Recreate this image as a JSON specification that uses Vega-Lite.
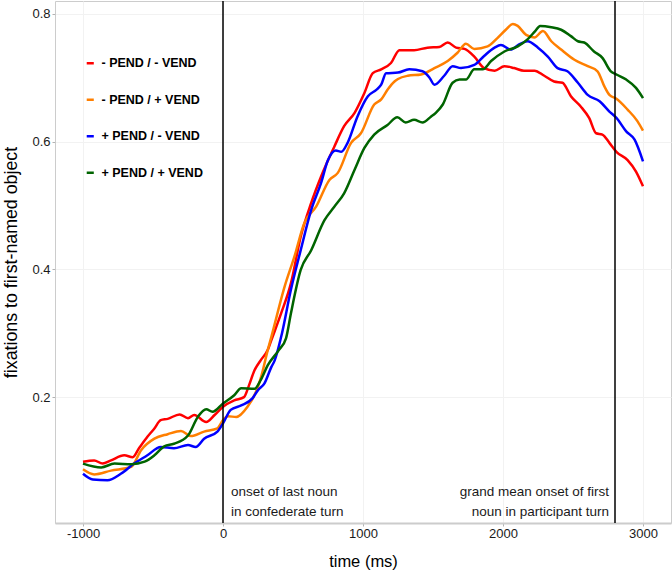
{
  "$schema": "https://vega.github.io/schema/vega-lite/v6.json",
  "width": 616,
  "height": 522,
  "autosize": "none",
  "padding": {"left": 55, "top": 1, "right": 1, "bottom": 51},
  "background": "white",
  "config": {
    "font": "Liberation Sans",
    "view": {"stroke": "#cccccc", "strokeWidth": 1},
    "axis": {
      "labelFont": "Liberation Sans",
      "labelFontSize": 13,
      "labelColor": "#1a1a1a",
      "titleFont": "Liberation Sans",
      "titleFontSize": 16.5,
      "titleFontWeight": "normal",
      "titleColor": "#000000",
      "gridColor": "#f2f2f2",
      "gridWidth": 1,
      "tickColor": "#b3b3b3",
      "tickSize": 3,
      "domain": false
    }
  },
  "datasets": {
    "curves": [
      {"t": -1000, "v": 0.099, "cond": "- PEND / - VEND"},
      {"t": -920, "v": 0.101, "cond": "- PEND / - VEND"},
      {"t": -860, "v": 0.096, "cond": "- PEND / - VEND"},
      {"t": -800, "v": 0.101, "cond": "- PEND / - VEND"},
      {"t": -705, "v": 0.109, "cond": "- PEND / - VEND"},
      {"t": -645, "v": 0.106, "cond": "- PEND / - VEND"},
      {"t": -600, "v": 0.120, "cond": "- PEND / - VEND"},
      {"t": -540, "v": 0.138, "cond": "- PEND / - VEND"},
      {"t": -490, "v": 0.151, "cond": "- PEND / - VEND"},
      {"t": -445, "v": 0.164, "cond": "- PEND / - VEND"},
      {"t": -395, "v": 0.166, "cond": "- PEND / - VEND"},
      {"t": -310, "v": 0.173, "cond": "- PEND / - VEND"},
      {"t": -250, "v": 0.167, "cond": "- PEND / - VEND"},
      {"t": -205, "v": 0.172, "cond": "- PEND / - VEND"},
      {"t": -120, "v": 0.161, "cond": "- PEND / - VEND"},
      {"t": -60, "v": 0.172, "cond": "- PEND / - VEND"},
      {"t": 0, "v": 0.185, "cond": "- PEND / - VEND"},
      {"t": 80, "v": 0.195, "cond": "- PEND / - VEND"},
      {"t": 150, "v": 0.200, "cond": "- PEND / - VEND"},
      {"t": 185, "v": 0.218, "cond": "- PEND / - VEND"},
      {"t": 225, "v": 0.242, "cond": "- PEND / - VEND"},
      {"t": 270, "v": 0.258, "cond": "- PEND / - VEND"},
      {"t": 320, "v": 0.274, "cond": "- PEND / - VEND"},
      {"t": 345, "v": 0.289, "cond": "- PEND / - VEND"},
      {"t": 415, "v": 0.331, "cond": "- PEND / - VEND"},
      {"t": 485, "v": 0.378, "cond": "- PEND / - VEND"},
      {"t": 555, "v": 0.451, "cond": "- PEND / - VEND"},
      {"t": 630, "v": 0.504, "cond": "- PEND / - VEND"},
      {"t": 700, "v": 0.545, "cond": "- PEND / - VEND"},
      {"t": 795, "v": 0.592, "cond": "- PEND / - VEND"},
      {"t": 865, "v": 0.624, "cond": "- PEND / - VEND"},
      {"t": 940, "v": 0.645, "cond": "- PEND / - VEND"},
      {"t": 1010, "v": 0.676, "cond": "- PEND / - VEND"},
      {"t": 1070, "v": 0.707, "cond": "- PEND / - VEND"},
      {"t": 1130, "v": 0.713, "cond": "- PEND / - VEND"},
      {"t": 1200, "v": 0.723, "cond": "- PEND / - VEND"},
      {"t": 1260, "v": 0.743, "cond": "- PEND / - VEND"},
      {"t": 1365, "v": 0.743, "cond": "- PEND / - VEND"},
      {"t": 1460, "v": 0.747, "cond": "- PEND / - VEND"},
      {"t": 1545, "v": 0.748, "cond": "- PEND / - VEND"},
      {"t": 1605, "v": 0.755, "cond": "- PEND / - VEND"},
      {"t": 1665, "v": 0.747, "cond": "- PEND / - VEND"},
      {"t": 1725, "v": 0.745, "cond": "- PEND / - VEND"},
      {"t": 1795, "v": 0.733, "cond": "- PEND / - VEND"},
      {"t": 1865, "v": 0.715, "cond": "- PEND / - VEND"},
      {"t": 1940, "v": 0.711, "cond": "- PEND / - VEND"},
      {"t": 2010, "v": 0.718, "cond": "- PEND / - VEND"},
      {"t": 2080, "v": 0.715, "cond": "- PEND / - VEND"},
      {"t": 2150, "v": 0.711, "cond": "- PEND / - VEND"},
      {"t": 2225, "v": 0.711, "cond": "- PEND / - VEND"},
      {"t": 2295, "v": 0.703, "cond": "- PEND / - VEND"},
      {"t": 2365, "v": 0.694, "cond": "- PEND / - VEND"},
      {"t": 2425, "v": 0.692, "cond": "- PEND / - VEND"},
      {"t": 2485, "v": 0.671, "cond": "- PEND / - VEND"},
      {"t": 2555, "v": 0.655, "cond": "- PEND / - VEND"},
      {"t": 2615, "v": 0.637, "cond": "- PEND / - VEND"},
      {"t": 2665, "v": 0.613, "cond": "- PEND / - VEND"},
      {"t": 2710, "v": 0.611, "cond": "- PEND / - VEND"},
      {"t": 2760, "v": 0.598, "cond": "- PEND / - VEND"},
      {"t": 2810, "v": 0.584, "cond": "- PEND / - VEND"},
      {"t": 2890, "v": 0.571, "cond": "- PEND / - VEND"},
      {"t": 2950, "v": 0.553, "cond": "- PEND / - VEND"},
      {"t": 3000, "v": 0.530, "cond": "- PEND / - VEND"},

      {"t": -1000, "v": 0.087, "cond": "- PEND / + VEND"},
      {"t": -920, "v": 0.079, "cond": "- PEND / + VEND"},
      {"t": -800, "v": 0.085, "cond": "- PEND / + VEND"},
      {"t": -655, "v": 0.091, "cond": "- PEND / + VEND"},
      {"t": -585, "v": 0.117, "cond": "- PEND / + VEND"},
      {"t": -490, "v": 0.135, "cond": "- PEND / + VEND"},
      {"t": -395, "v": 0.142, "cond": "- PEND / + VEND"},
      {"t": -300, "v": 0.147, "cond": "- PEND / + VEND"},
      {"t": -230, "v": 0.139, "cond": "- PEND / + VEND"},
      {"t": -135, "v": 0.146, "cond": "- PEND / + VEND"},
      {"t": -40, "v": 0.151, "cond": "- PEND / + VEND"},
      {"t": 0, "v": 0.164, "cond": "- PEND / + VEND"},
      {"t": 35, "v": 0.170, "cond": "- PEND / + VEND"},
      {"t": 95, "v": 0.169, "cond": "- PEND / + VEND"},
      {"t": 175, "v": 0.185, "cond": "- PEND / + VEND"},
      {"t": 235, "v": 0.208, "cond": "- PEND / + VEND"},
      {"t": 270, "v": 0.230, "cond": "- PEND / + VEND"},
      {"t": 320, "v": 0.274, "cond": "- PEND / + VEND"},
      {"t": 345, "v": 0.294, "cond": "- PEND / + VEND"},
      {"t": 440, "v": 0.373, "cond": "- PEND / + VEND"},
      {"t": 510, "v": 0.420, "cond": "- PEND / + VEND"},
      {"t": 580, "v": 0.472, "cond": "- PEND / + VEND"},
      {"t": 665, "v": 0.498, "cond": "- PEND / + VEND"},
      {"t": 760, "v": 0.540, "cond": "- PEND / + VEND"},
      {"t": 820, "v": 0.551, "cond": "- PEND / + VEND"},
      {"t": 915, "v": 0.598, "cond": "- PEND / + VEND"},
      {"t": 985, "v": 0.613, "cond": "- PEND / + VEND"},
      {"t": 1080, "v": 0.658, "cond": "- PEND / + VEND"},
      {"t": 1130, "v": 0.666, "cond": "- PEND / + VEND"},
      {"t": 1175, "v": 0.681, "cond": "- PEND / + VEND"},
      {"t": 1225, "v": 0.694, "cond": "- PEND / + VEND"},
      {"t": 1250, "v": 0.698, "cond": "- PEND / + VEND"},
      {"t": 1320, "v": 0.703, "cond": "- PEND / + VEND"},
      {"t": 1415, "v": 0.705, "cond": "- PEND / + VEND"},
      {"t": 1510, "v": 0.715, "cond": "- PEND / + VEND"},
      {"t": 1605, "v": 0.726, "cond": "- PEND / + VEND"},
      {"t": 1675, "v": 0.739, "cond": "- PEND / + VEND"},
      {"t": 1735, "v": 0.753, "cond": "- PEND / + VEND"},
      {"t": 1795, "v": 0.745, "cond": "- PEND / + VEND"},
      {"t": 1890, "v": 0.749, "cond": "- PEND / + VEND"},
      {"t": 1960, "v": 0.762, "cond": "- PEND / + VEND"},
      {"t": 2020, "v": 0.775, "cond": "- PEND / + VEND"},
      {"t": 2070, "v": 0.784, "cond": "- PEND / + VEND"},
      {"t": 2105, "v": 0.781, "cond": "- PEND / + VEND"},
      {"t": 2165, "v": 0.767, "cond": "- PEND / + VEND"},
      {"t": 2225, "v": 0.763, "cond": "- PEND / + VEND"},
      {"t": 2285, "v": 0.773, "cond": "- PEND / + VEND"},
      {"t": 2345, "v": 0.757, "cond": "- PEND / + VEND"},
      {"t": 2415, "v": 0.744, "cond": "- PEND / + VEND"},
      {"t": 2510, "v": 0.728, "cond": "- PEND / + VEND"},
      {"t": 2605, "v": 0.718, "cond": "- PEND / + VEND"},
      {"t": 2675, "v": 0.710, "cond": "- PEND / + VEND"},
      {"t": 2725, "v": 0.686, "cond": "- PEND / + VEND"},
      {"t": 2760, "v": 0.673, "cond": "- PEND / + VEND"},
      {"t": 2810, "v": 0.667, "cond": "- PEND / + VEND"},
      {"t": 2890, "v": 0.650, "cond": "- PEND / + VEND"},
      {"t": 2960, "v": 0.632, "cond": "- PEND / + VEND"},
      {"t": 3000, "v": 0.617, "cond": "- PEND / + VEND"},

      {"t": -1000, "v": 0.080, "cond": "+ PEND / - VEND"},
      {"t": -930, "v": 0.071, "cond": "+ PEND / - VEND"},
      {"t": -825, "v": 0.070, "cond": "+ PEND / - VEND"},
      {"t": -730, "v": 0.080, "cond": "+ PEND / - VEND"},
      {"t": -635, "v": 0.096, "cond": "+ PEND / - VEND"},
      {"t": -540, "v": 0.109, "cond": "+ PEND / - VEND"},
      {"t": -445, "v": 0.122, "cond": "+ PEND / - VEND"},
      {"t": -350, "v": 0.120, "cond": "+ PEND / - VEND"},
      {"t": -250, "v": 0.125, "cond": "+ PEND / - VEND"},
      {"t": -195, "v": 0.122, "cond": "+ PEND / - VEND"},
      {"t": -135, "v": 0.135, "cond": "+ PEND / - VEND"},
      {"t": -40, "v": 0.146, "cond": "+ PEND / - VEND"},
      {"t": 0, "v": 0.159, "cond": "+ PEND / - VEND"},
      {"t": 55, "v": 0.180, "cond": "+ PEND / - VEND"},
      {"t": 130, "v": 0.187, "cond": "+ PEND / - VEND"},
      {"t": 210, "v": 0.198, "cond": "+ PEND / - VEND"},
      {"t": 250, "v": 0.211, "cond": "+ PEND / - VEND"},
      {"t": 295, "v": 0.221, "cond": "+ PEND / - VEND"},
      {"t": 345, "v": 0.247, "cond": "+ PEND / - VEND"},
      {"t": 370, "v": 0.258, "cond": "+ PEND / - VEND"},
      {"t": 415, "v": 0.294, "cond": "+ PEND / - VEND"},
      {"t": 485, "v": 0.368, "cond": "+ PEND / - VEND"},
      {"t": 555, "v": 0.430, "cond": "+ PEND / - VEND"},
      {"t": 630, "v": 0.493, "cond": "+ PEND / - VEND"},
      {"t": 700, "v": 0.535, "cond": "+ PEND / - VEND"},
      {"t": 750, "v": 0.571, "cond": "+ PEND / - VEND"},
      {"t": 805, "v": 0.586, "cond": "+ PEND / - VEND"},
      {"t": 845, "v": 0.584, "cond": "+ PEND / - VEND"},
      {"t": 890, "v": 0.598, "cond": "+ PEND / - VEND"},
      {"t": 960, "v": 0.639, "cond": "+ PEND / - VEND"},
      {"t": 1035, "v": 0.671, "cond": "+ PEND / - VEND"},
      {"t": 1095, "v": 0.681, "cond": "+ PEND / - VEND"},
      {"t": 1130, "v": 0.689, "cond": "+ PEND / - VEND"},
      {"t": 1165, "v": 0.707, "cond": "+ PEND / - VEND"},
      {"t": 1250, "v": 0.708, "cond": "+ PEND / - VEND"},
      {"t": 1330, "v": 0.713, "cond": "+ PEND / - VEND"},
      {"t": 1425, "v": 0.710, "cond": "+ PEND / - VEND"},
      {"t": 1475, "v": 0.700, "cond": "+ PEND / - VEND"},
      {"t": 1510, "v": 0.689, "cond": "+ PEND / - VEND"},
      {"t": 1580, "v": 0.703, "cond": "+ PEND / - VEND"},
      {"t": 1640, "v": 0.718, "cond": "+ PEND / - VEND"},
      {"t": 1700, "v": 0.715, "cond": "+ PEND / - VEND"},
      {"t": 1795, "v": 0.720, "cond": "+ PEND / - VEND"},
      {"t": 1865, "v": 0.734, "cond": "+ PEND / - VEND"},
      {"t": 1940, "v": 0.747, "cond": "+ PEND / - VEND"},
      {"t": 1985, "v": 0.751, "cond": "+ PEND / - VEND"},
      {"t": 2055, "v": 0.744, "cond": "+ PEND / - VEND"},
      {"t": 2115, "v": 0.752, "cond": "+ PEND / - VEND"},
      {"t": 2175, "v": 0.757, "cond": "+ PEND / - VEND"},
      {"t": 2250, "v": 0.747, "cond": "+ PEND / - VEND"},
      {"t": 2320, "v": 0.733, "cond": "+ PEND / - VEND"},
      {"t": 2390, "v": 0.715, "cond": "+ PEND / - VEND"},
      {"t": 2460, "v": 0.710, "cond": "+ PEND / - VEND"},
      {"t": 2535, "v": 0.692, "cond": "+ PEND / - VEND"},
      {"t": 2605, "v": 0.673, "cond": "+ PEND / - VEND"},
      {"t": 2690, "v": 0.663, "cond": "+ PEND / - VEND"},
      {"t": 2760, "v": 0.647, "cond": "+ PEND / - VEND"},
      {"t": 2810, "v": 0.637, "cond": "+ PEND / - VEND"},
      {"t": 2880, "v": 0.616, "cond": "+ PEND / - VEND"},
      {"t": 2940, "v": 0.603, "cond": "+ PEND / - VEND"},
      {"t": 3000, "v": 0.569, "cond": "+ PEND / - VEND"},

      {"t": -1000, "v": 0.096, "cond": "+ PEND / + VEND"},
      {"t": -870, "v": 0.090, "cond": "+ PEND / + VEND"},
      {"t": -775, "v": 0.096, "cond": "+ PEND / + VEND"},
      {"t": -655, "v": 0.095, "cond": "+ PEND / + VEND"},
      {"t": -560, "v": 0.099, "cond": "+ PEND / + VEND"},
      {"t": -490, "v": 0.109, "cond": "+ PEND / + VEND"},
      {"t": -420, "v": 0.123, "cond": "+ PEND / + VEND"},
      {"t": -350, "v": 0.127, "cond": "+ PEND / + VEND"},
      {"t": -250, "v": 0.140, "cond": "+ PEND / + VEND"},
      {"t": -180, "v": 0.169, "cond": "+ PEND / + VEND"},
      {"t": -120, "v": 0.181, "cond": "+ PEND / + VEND"},
      {"t": -75, "v": 0.177, "cond": "+ PEND / + VEND"},
      {"t": 0, "v": 0.190, "cond": "+ PEND / + VEND"},
      {"t": 80, "v": 0.203, "cond": "+ PEND / + VEND"},
      {"t": 130, "v": 0.214, "cond": "+ PEND / + VEND"},
      {"t": 225, "v": 0.213, "cond": "+ PEND / + VEND"},
      {"t": 270, "v": 0.227, "cond": "+ PEND / + VEND"},
      {"t": 320, "v": 0.250, "cond": "+ PEND / + VEND"},
      {"t": 400, "v": 0.274, "cond": "+ PEND / + VEND"},
      {"t": 450, "v": 0.292, "cond": "+ PEND / + VEND"},
      {"t": 485, "v": 0.331, "cond": "+ PEND / + VEND"},
      {"t": 555, "v": 0.399, "cond": "+ PEND / + VEND"},
      {"t": 630, "v": 0.430, "cond": "+ PEND / + VEND"},
      {"t": 725, "v": 0.477, "cond": "+ PEND / + VEND"},
      {"t": 795, "v": 0.498, "cond": "+ PEND / + VEND"},
      {"t": 865, "v": 0.519, "cond": "+ PEND / + VEND"},
      {"t": 940, "v": 0.556, "cond": "+ PEND / + VEND"},
      {"t": 1010, "v": 0.590, "cond": "+ PEND / + VEND"},
      {"t": 1080, "v": 0.611, "cond": "+ PEND / + VEND"},
      {"t": 1175, "v": 0.626, "cond": "+ PEND / + VEND"},
      {"t": 1245, "v": 0.638, "cond": "+ PEND / + VEND"},
      {"t": 1305, "v": 0.630, "cond": "+ PEND / + VEND"},
      {"t": 1365, "v": 0.634, "cond": "+ PEND / + VEND"},
      {"t": 1425, "v": 0.630, "cond": "+ PEND / + VEND"},
      {"t": 1485, "v": 0.639, "cond": "+ PEND / + VEND"},
      {"t": 1520, "v": 0.645, "cond": "+ PEND / + VEND"},
      {"t": 1570, "v": 0.658, "cond": "+ PEND / + VEND"},
      {"t": 1640, "v": 0.692, "cond": "+ PEND / + VEND"},
      {"t": 1690, "v": 0.697, "cond": "+ PEND / + VEND"},
      {"t": 1735, "v": 0.697, "cond": "+ PEND / + VEND"},
      {"t": 1795, "v": 0.713, "cond": "+ PEND / + VEND"},
      {"t": 1855, "v": 0.713, "cond": "+ PEND / + VEND"},
      {"t": 1915, "v": 0.726, "cond": "+ PEND / + VEND"},
      {"t": 2010, "v": 0.741, "cond": "+ PEND / + VEND"},
      {"t": 2105, "v": 0.749, "cond": "+ PEND / + VEND"},
      {"t": 2175, "v": 0.760, "cond": "+ PEND / + VEND"},
      {"t": 2230, "v": 0.773, "cond": "+ PEND / + VEND"},
      {"t": 2265, "v": 0.781, "cond": "+ PEND / + VEND"},
      {"t": 2345, "v": 0.779, "cond": "+ PEND / + VEND"},
      {"t": 2415, "v": 0.775, "cond": "+ PEND / + VEND"},
      {"t": 2485, "v": 0.765, "cond": "+ PEND / + VEND"},
      {"t": 2535, "v": 0.757, "cond": "+ PEND / + VEND"},
      {"t": 2580, "v": 0.755, "cond": "+ PEND / + VEND"},
      {"t": 2650, "v": 0.741, "cond": "+ PEND / + VEND"},
      {"t": 2710, "v": 0.731, "cond": "+ PEND / + VEND"},
      {"t": 2770, "v": 0.710, "cond": "+ PEND / + VEND"},
      {"t": 2810, "v": 0.705, "cond": "+ PEND / + VEND"},
      {"t": 2880, "v": 0.697, "cond": "+ PEND / + VEND"},
      {"t": 2950, "v": 0.684, "cond": "+ PEND / + VEND"},
      {"t": 3000, "v": 0.668, "cond": "+ PEND / + VEND"}
    ],
    "events": [
      {"t": 0},
      {"t": 2800}
    ],
    "notesLeft": [
      {"t": 57, "v": 0.051, "label": "onset of last noun"},
      {"t": 57, "v": 0.0197, "label": "in confederate turn"}
    ],
    "notesRight": [
      {"t": 2757, "v": 0.051, "label": "grand mean onset of first"},
      {"t": 2757, "v": 0.0197, "label": "noun in participant turn"}
    ]
  },
  "layer": [
    {
      "data": {"name": "curves"},
      "mark": {"type": "line", "strokeWidth": 2.5, "interpolate": "monotone"},
      "encoding": {
        "x": {
          "field": "t",
          "type": "quantitative",
          "scale": {"domain": [-1200, 3200], "nice": false, "zero": false},
          "axis": {
            "title": "time (ms)",
            "values": [-1000, 0, 1000, 2000, 3000],
            "labelExpr": "'' + datum.value",
            "labelPadding": 1,
            "titlePadding": 13,
            "domain": true,
            "domainColor": "#cccccc",
            "domainWidth": 2
          }
        },
        "y": {
          "field": "v",
          "type": "quantitative",
          "scale": {"domain": [0.003, 0.82], "nice": false, "zero": false},
          "axis": {
            "title": "fixations to first-named object",
            "titleFontSize": 17.8,
            "values": [0.2, 0.4, 0.6, 0.8],
            "format": ".1f",
            "labelPadding": 2,
            "titlePadding": 11
          }
        },
        "color": {
          "field": "cond",
          "type": "nominal",
          "scale": {
            "domain": ["- PEND / - VEND", "- PEND / + VEND", "+ PEND / - VEND", "+ PEND / + VEND"],
            "range": ["#ff0000", "#ff7f00", "#0000ff", "#006400"]
          },
          "legend": {
            "title": null,
            "orient": "none",
            "legendX": 29,
            "legendY": 56,
            "symbolType": "stroke",
            "symbolStrokeWidth": 2.5,
            "symbolSize": 50,
            "labelFont": "Liberation Sans",
            "labelFontSize": 12.5,
            "labelFontWeight": "bold",
            "labelColor": "#000000",
            "labelOffset": 5,
            "rowPadding": 23.5,
            "padding": 0
          }
        }
      }
    },
    {
      "data": {"name": "events"},
      "mark": {"type": "rule", "color": "#000000", "strokeWidth": 1.5},
      "encoding": {
        "x": {"field": "t", "type": "quantitative"}
      }
    },
    {
      "data": {"name": "notesLeft"},
      "mark": {"type": "text", "align": "left", "baseline": "middle", "fontSize": 13.5, "color": "#1a1a1a", "font": "Liberation Sans"},
      "encoding": {
        "x": {"field": "t", "type": "quantitative"},
        "y": {"field": "v", "type": "quantitative"},
        "text": {"field": "label", "type": "nominal"}
      }
    },
    {
      "data": {"name": "notesRight"},
      "mark": {"type": "text", "align": "right", "baseline": "middle", "fontSize": 13.5, "color": "#1a1a1a", "font": "Liberation Sans"},
      "encoding": {
        "x": {"field": "t", "type": "quantitative"},
        "y": {"field": "v", "type": "quantitative"},
        "text": {"field": "label", "type": "nominal"}
      }
    }
  ]
}
